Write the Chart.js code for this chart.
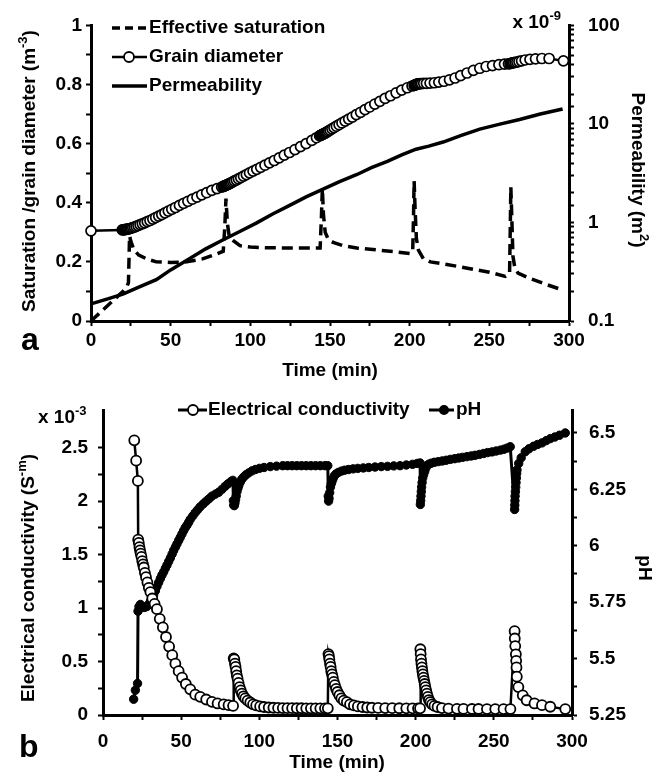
<!DOCTYPE html>
<html>
<head>
<meta charset="utf-8">
<script src="https://cdn.jsdelivr.net/npm/chart.js@4.4.1/dist/chart.umd.min.js"></script>
<style>
  body { margin: 0; background: #fff; }
  #wrap { position: relative; width: 662px; height: 774px; }
  canvas { position: absolute; left: 0; }
</style>
</head>
<body>
<div id="wrap">
  <canvas id="chartA" width="662" height="387" style="top:0"></canvas>
  <canvas id="chartB" width="662" height="387" style="top:387px"></canvas>
</div>
<script>
// ---- panel a ----
const grainTime = [
  0, 19.6, 20.2, 20.8, 21.4, 22.0, 22.6, 23.2, 23.8, 24.5,
  25.3, 26.2, 27.2, 28.3, 29.5, 30.8, 32.2, 33.7, 35.3, 37.0,
  38.8, 40.6, 42.5, 44.4, 46.4, 48.5, 50.7, 53.0, 55.5, 58.1,
  60.8, 63.6, 66.5, 69.5, 72.6, 75.8, 79.1, 82.0, 83.0, 83.4,
  83.8, 84.2, 84.6, 85.0, 85.5, 86.0, 86.6, 87.3, 88.1, 89.0,
  90.0, 91.2, 92.5, 94.0, 95.7, 97.5, 99.5, 101.7, 104.0, 106.5,
  109.2, 112.0, 115.0, 118.1, 121.3, 124.6, 128.0, 131.5, 135.0, 138.6,
  141.5, 143.5, 144.0, 144.4, 144.8, 145.2, 145.6, 146.0, 146.5, 147.0,
  147.6, 148.3, 149.1, 150.0, 151.2, 152.5, 154.0, 155.7, 157.5, 159.5,
  161.7, 164.0, 166.5, 169.2, 172.0, 175.0, 178.1, 181.3, 184.6, 188.0,
  191.5, 195.0, 198.5, 201.5, 202.8, 203.2, 203.6, 204.0, 204.5, 205.0,
  205.7, 206.5, 207.5, 208.8, 210.5, 212.8, 215.5, 218.3, 221.5, 225.0,
  228.5, 232.0, 236.0, 240.0, 244.0, 248.0, 252.0, 256.0, 259.5, 262.0,
  263.0, 263.5, 264.0, 264.6, 265.3, 266.2, 267.3, 268.6, 270.2, 272.5,
  275.5, 279.0, 283.0, 287.5, 296.5
];
const grainDia = [
  0.305, 0.308, 0.308, 0.309, 0.309, 0.310, 0.311, 0.311, 0.312, 0.313,
  0.314, 0.316, 0.318, 0.320, 0.323, 0.326, 0.329, 0.332, 0.336, 0.340,
  0.345, 0.350, 0.355, 0.360, 0.366, 0.372, 0.378, 0.384, 0.391, 0.398,
  0.405, 0.412, 0.419, 0.427, 0.434, 0.442, 0.448, 0.453, 0.455, 0.456,
  0.457, 0.458, 0.459, 0.460, 0.461, 0.462, 0.464, 0.466, 0.468, 0.471,
  0.474, 0.477, 0.481, 0.485, 0.490, 0.495, 0.501, 0.507, 0.513, 0.520,
  0.527, 0.535, 0.543, 0.552, 0.561, 0.570, 0.580, 0.590, 0.600, 0.611,
  0.620, 0.626, 0.628, 0.629, 0.630, 0.631, 0.632, 0.633, 0.635, 0.636,
  0.638, 0.640, 0.643, 0.646, 0.650, 0.654, 0.659, 0.664, 0.670, 0.676,
  0.683, 0.690, 0.698, 0.706, 0.715, 0.724, 0.734, 0.743, 0.753, 0.762,
  0.772, 0.781, 0.789, 0.795, 0.797, 0.798, 0.799, 0.800, 0.801, 0.802,
  0.802, 0.803, 0.803, 0.804, 0.804, 0.805, 0.806, 0.808, 0.811, 0.816,
  0.822, 0.830, 0.839, 0.848, 0.855, 0.861, 0.864, 0.867, 0.869, 0.870,
  0.871, 0.872, 0.872, 0.873, 0.874, 0.875, 0.876, 0.878, 0.880, 0.883,
  0.885, 0.887, 0.888, 0.888, 0.880
];
const satTime = [
  0, 5, 10, 15, 20, 22.5, 23.5, 23.9, 24.2, 25,
  27, 30, 35, 41, 50, 60, 70, 78, 83, 84.0,
  84.7, 85.6, 86.8, 89.3, 93.5, 100, 110, 120, 130, 143.8,
  144.6, 145.2, 145.9, 147, 149, 152, 158, 166.8, 180, 190,
  200, 201.9, 202.4, 202.8, 203.4, 204.2, 205.5, 208.6, 213, 219,
  230, 240, 250, 260, 262.7, 263.1, 263.5, 264.1, 264.8, 266,
  268, 275, 285, 296.5
];
const satValue = [
  0, 0.025, 0.05, 0.075, 0.10, 0.115, 0.13, 0.22, 0.288, 0.27,
  0.24, 0.223, 0.21, 0.2, 0.198, 0.2, 0.21, 0.225, 0.236, 0.32,
  0.414, 0.33, 0.285, 0.272, 0.255, 0.25, 0.248, 0.247, 0.247, 0.247,
  0.35, 0.447, 0.36, 0.3, 0.275, 0.266, 0.255, 0.247, 0.24, 0.235,
  0.228, 0.235, 0.35, 0.473, 0.38, 0.28, 0.24, 0.211, 0.2, 0.195,
  0.185, 0.175, 0.165, 0.151, 0.16, 0.3, 0.453, 0.35, 0.22, 0.18,
  0.162, 0.145, 0.125, 0.104
];
const permTime = [0, 10, 20, 30, 41, 50, 62, 72, 83, 94, 104, 114, 125, 135, 146,
  156, 167, 176, 186, 195, 204, 212, 221, 232, 244, 256, 269, 282, 296];
const permValue = [0.149, 0.167, 0.187, 0.221, 0.263, 0.33, 0.43, 0.54, 0.668, 0.82, 0.99, 1.22, 1.5, 1.82, 2.19,
  2.6, 3.07, 3.6, 4.16, 4.85, 5.54, 5.95, 6.55, 7.6, 8.87, 9.9, 11.1, 12.6, 14.2];

// ---- panel b ----
const ecTime = [
  20.0, 21.2, 22.3, 22.5, 22.9, 23.3, 23.7, 24.1, 24.6, 25.1,
  25.6, 26.1, 26.8, 27.5, 28.4, 29.3, 30.3, 31.5, 33.0, 34.5,
  36.3, 38.3, 40.3, 42.3, 44.3, 46.3, 48.4, 50.6, 53.0, 55.8,
  59.0, 62.2, 66.0, 69.7, 73.3, 77.2, 80.3, 83.2,
  83.6, 84.0, 84.4, 84.8, 85.2, 85.6, 86.1, 86.7, 87.4, 88.1,
  88.9, 89.9, 91.0, 92.5, 94.2, 96.0, 98.0, 100.5, 103, 106,
  109, 112, 115, 118, 121, 124, 127, 130, 133, 136,
  139, 142, 143.8,
  144.2, 144.5, 144.8, 145.2, 145.6, 146.0, 146.5, 147.0, 147.6, 148.3,
  149.1, 150.0, 151.2, 152.5, 154, 156, 158, 160.5, 163, 166,
  169, 172, 176, 180.5, 185, 189.5, 194, 198, 201.5, 202.8,
  203.0, 203.2, 203.4, 203.7, 204.0, 204.3, 204.6, 205.0, 205.4, 205.8,
  206.2, 206.7, 207.2, 207.8, 208.5, 209.4, 210.5, 212, 214, 216.8,
  221, 226.4, 230.6, 236, 240.2, 245.6, 250.9, 256.2, 260.6,
  263.3, 263.4, 263.7, 264.1, 264.3, 264.5, 264.7, 265.7, 268.5, 271,
  276, 280.8, 286.1, 295.7
];
const ecValue = [
  2.57, 2.38, 2.19, 1.64, 1.61, 1.57, 1.54, 1.51, 1.48, 1.44,
  1.41, 1.38, 1.33, 1.29, 1.24, 1.19, 1.15, 1.09, 1.04, 0.99,
  0.90, 0.82, 0.73, 0.64, 0.56, 0.48, 0.41, 0.35, 0.29, 0.24,
  0.19, 0.17, 0.145, 0.123, 0.108, 0.099, 0.092, 0.085,
  0.53, 0.52, 0.48, 0.45, 0.41, 0.37, 0.34, 0.30, 0.26, 0.23,
  0.20, 0.175, 0.155, 0.135, 0.117, 0.10, 0.09, 0.08, 0.075, 0.07,
  0.068, 0.066, 0.065, 0.064, 0.064, 0.063, 0.063, 0.062, 0.062, 0.062,
  0.062, 0.062, 0.062,
  0.57, 0.55, 0.52, 0.48, 0.45, 0.41, 0.38, 0.35, 0.31, 0.28,
  0.245, 0.215, 0.185, 0.155, 0.135, 0.12, 0.10, 0.09, 0.08, 0.075,
  0.07, 0.068, 0.066, 0.065, 0.064, 0.063, 0.062, 0.062, 0.062, 0.062,
  0.615, 0.57, 0.52, 0.48, 0.445, 0.41, 0.38, 0.35, 0.32, 0.29,
  0.26, 0.23, 0.20, 0.17, 0.14, 0.12, 0.10, 0.085, 0.075, 0.065,
  0.06, 0.058, 0.057, 0.056, 0.056, 0.055, 0.055, 0.055, 0.055,
  0.784, 0.716, 0.645, 0.568, 0.507, 0.445, 0.359, 0.261, 0.184, 0.138,
  0.108, 0.092, 0.077, 0.055
];
const phTime = [
  19.6, 20.7, 22.1, 22.4, 23.0, 23.9, 25.0, 26.0, 27.0, 28.1,
  29.2, 30.3, 31.4, 32.4, 33.5, 34.5, 35.6, 36.7, 37.7, 38.8,
  39.9, 40.9, 42.0, 43.1, 44.2, 45.2, 46.3, 47.3, 48.4, 49.4,
  50.5, 51.6, 52.6, 53.7, 54.8, 55.8, 57.4, 59.0, 60.6, 62.2,
  64.2, 66.1, 67.9, 69.7, 71.9, 74.0, 76.1, 78.2, 80.0, 81.9,
  83.1,
  83.4, 83.6, 84.0, 84.4, 84.8, 85.2, 85.7, 86.3, 86.9, 87.8,
  88.8, 90.0, 91.5, 93.2, 95.3, 97.5, 100, 103, 107, 111,
  115, 118, 121, 124, 127, 130, 133, 136, 139, 142,
  143.8,
  144.1, 144.3, 144.6, 145.0, 145.5, 146.0, 146.5, 147.2, 148.0, 149.0,
  150.5, 152.5, 154.5, 157, 160, 163, 166.5, 170, 174, 178,
  182, 186, 190, 194, 198, 201, 202.8,
  203.0, 203.2, 203.4, 203.6, 203.8, 204.1, 204.5, 205.1, 205.8, 206.5,
  207.3, 208.5, 210, 212, 214.5, 217, 219.5, 222.2, 225, 227.5,
  230, 232.8, 235.5, 238, 240.8, 243.5, 246, 248.8, 251.5, 254.2,
  256.5, 258.5, 260.5,
  263.3, 263.4, 263.5, 263.6, 263.8, 264.0, 264.2, 264.4, 264.6, 264.8,
  265.9, 267.5, 270.1, 272.5, 275.4, 278, 280.8, 283.5, 286.1, 289,
  292, 295.7
];
const phValue = [
  5.32, 5.36, 5.39, 5.71, 5.73, 5.74, 5.73, 5.727, 5.728, 5.731,
  5.74, 5.753, 5.77, 5.782, 5.80, 5.819, 5.837, 5.855, 5.87, 5.884,
  5.90, 5.914, 5.93, 5.946, 5.963, 5.979, 5.994, 6.008, 6.023, 6.037,
  6.052, 6.067, 6.08, 6.091, 6.104, 6.117, 6.132, 6.147, 6.16, 6.173,
  6.186, 6.198, 6.209, 6.22, 6.229, 6.237, 6.25, 6.264, 6.275, 6.285,
  6.29,
  6.20, 6.18, 6.178, 6.19, 6.205, 6.22, 6.24, 6.255, 6.268, 6.282,
  6.295, 6.305, 6.315, 6.323, 6.332, 6.338, 6.343, 6.347, 6.351, 6.353,
  6.355, 6.355, 6.355, 6.355, 6.355, 6.355, 6.355, 6.355, 6.355, 6.355,
  6.355,
  6.22, 6.198, 6.21, 6.235, 6.26, 6.275, 6.285, 6.298, 6.31, 6.318,
  6.325, 6.331, 6.335, 6.338, 6.341, 6.343, 6.345, 6.347, 6.349, 6.351,
  6.352, 6.354, 6.355, 6.358, 6.361, 6.365, 6.367,
  6.183, 6.2, 6.22, 6.24, 6.26, 6.28, 6.3, 6.315, 6.33, 6.345,
  6.356, 6.362, 6.366, 6.37, 6.373, 6.376, 6.379, 6.383, 6.386, 6.389,
  6.392, 6.395, 6.398, 6.401, 6.405, 6.409, 6.413, 6.416, 6.42, 6.424,
  6.428, 6.433, 6.439,
  6.161, 6.18, 6.2, 6.22, 6.24, 6.26, 6.28, 6.3, 6.32, 6.336,
  6.365, 6.39, 6.417, 6.43, 6.441, 6.449, 6.456, 6.466, 6.475, 6.482,
  6.49, 6.5
];

const pts = (xs, ys) => xs.map((x, i) => ({ x: x, y: ys[i] }));

const FAMILY = '"Liberation Sans", Arial, sans-serif';
const MAIN = 'bold 19px ' + FAMILY;
const SUP = 'bold 13px ' + FAMILY;
const tickFont = { family: FAMILY, size: 19, weight: 'bold' };

function richText(ctx, parts, x, y, angle, align) {
  ctx.save();
  ctx.translate(x, y);
  ctx.rotate(angle);
  ctx.fillStyle = '#000';
  ctx.textBaseline = 'alphabetic';
  ctx.textAlign = 'left';
  let total = 0;
  const widths = parts.map(p => {
    ctx.font = p[1] ? SUP : MAIN;
    const w = ctx.measureText(p[0]).width;
    total += w;
    return w;
  });
  let cx = align === 'center' ? -total / 2 : (align === 'right' ? -total : 0);
  parts.forEach((p, i) => {
    ctx.font = p[1] ? SUP : MAIN;
    ctx.fillText(p[0], cx, p[1] ? -8 : 0);
    cx += widths[i];
  });
  ctx.restore();
}

function legendLine(ctx, x1, x2, y, width, dash) {
  ctx.save();
  ctx.strokeStyle = '#000';
  ctx.lineWidth = width;
  ctx.setLineDash(dash || []);
  ctx.beginPath();
  ctx.moveTo(x1, y);
  ctx.lineTo(x2, y);
  ctx.stroke();
  ctx.restore();
}

function legendDot(ctx, x, y, r, fill) {
  ctx.save();
  ctx.beginPath();
  ctx.arc(x, y, r, 0, Math.PI * 2);
  ctx.fillStyle = fill;
  ctx.fill();
  ctx.lineWidth = 1.8;
  ctx.strokeStyle = '#000';
  ctx.stroke();
  ctx.restore();
}

function legendText(ctx, txt, x, y) {
  ctx.save();
  ctx.font = MAIN;
  ctx.fillStyle = '#000';
  ctx.textBaseline = 'middle';
  ctx.textAlign = 'left';
  ctx.fillText(txt, x, y);
  ctx.restore();
}

function bigLetter(ctx, txt, x, y) {
  ctx.save();
  ctx.font = 'bold 32px ' + FAMILY;
  ctx.fillStyle = '#000';
  ctx.fillText(txt, x, y);
  ctx.restore();
}

const annotA = {
  id: 'annotA',
  afterDraw(chart) {
    const ctx = chart.ctx;
    richText(ctx, [['Saturation /grain diameter (m'], ['-3', true], [')']], 35, 171, -Math.PI / 2, 'center');
    richText(ctx, [['Permeability (m'], ['2', true], [')']], 632, 170, Math.PI / 2, 'center');
    richText(ctx, [['Time (min)']], 330, 376, 0, 'center');
    richText(ctx, [['x 10'], ['-9', true]], 561, 28, 0, 'right');
    bigLetter(ctx, 'a', 21, 350);
    legendLine(ctx, 112, 147, 28, 3.5, [8, 5]);
    legendText(ctx, 'Effective saturation', 149, 28);
    legendLine(ctx, 112, 147, 57, 2.5);
    legendDot(ctx, 129, 57, 5, '#fff');
    legendText(ctx, 'Grain diameter', 149, 57);
    legendLine(ctx, 112, 147, 86, 3.5);
    legendText(ctx, 'Permeability', 149, 86);
  }
};

const annotB = {
  id: 'annotB',
  afterDraw(chart) {
    const ctx = chart.ctx;
    richText(ctx, [['Electrical conductivity (S'], ['-m', true], [')']], 34, 191, -Math.PI / 2, 'center');
    richText(ctx, [['pH']], 639, 181, Math.PI / 2, 'center');
    richText(ctx, [['Time (min)']], 337, 381, 0, 'center');
    richText(ctx, [['x 10'], ['-3', true]], 38, 36, 0, 'left');
    bigLetter(ctx, 'b', 19, 370);
    legendLine(ctx, 178, 207, 23, 3);
    legendDot(ctx, 193, 23, 5, '#fff');
    legendText(ctx, 'Electrical conductivity', 208, 23);
    legendLine(ctx, 429, 454, 23, 3);
    legendDot(ctx, 444, 23, 4.2, '#000');
    legendText(ctx, 'pH', 456, 23);
  }
};

const axisBorder = { display: true, color: '#000', width: 3 };
const axisGrid = { drawOnChartArea: false, color: '#000', tickColor: '#000', tickLength: 5, tickWidth: 2 };
const onStep = (v, s) => Math.abs(v / s - Math.round(v / s)) < 1e-6;

new Chart(document.getElementById('chartA'), {
  type: 'line',
  data: {
    datasets: [
      { label: 'Grain diameter', data: pts(grainTime, grainDia), yAxisID: 'y',
        borderColor: '#000', borderWidth: 2.5, pointRadius: 5, pointBackgroundColor: '#fff',
        pointBorderColor: '#000', pointBorderWidth: 1.7, clip: false },
      { label: 'Effective saturation', data: pts(satTime, satValue), yAxisID: 'y',
        borderColor: '#000', borderWidth: 3.5, borderDash: [11, 6], pointRadius: 0, clip: false },
      { label: 'Permeability', data: pts(permTime, permValue), yAxisID: 'y2',
        borderColor: '#000', borderWidth: 3.5, pointRadius: 0, clip: false }
    ]
  },
  options: {
    responsive: false, animation: false, devicePixelRatio: 1,
    layout: { padding: { top: 17, left: 0, right: 0, bottom: 0 } },
    plugins: { legend: { display: false }, tooltip: { enabled: false } },
    scales: {
      x: {
        type: 'linear', min: 0, max: 300,
        afterFit: s => { s.height = 66; },
        border: axisBorder, grid: axisGrid,
        ticks: { stepSize: 25, autoSkip: false, maxRotation: 0, padding: 3, color: '#000', font: tickFont,
          callback: v => onStep(v, 50) ? String(v) : '' }
      },
      y: {
        position: 'left', min: 0, max: 1,
        afterFit: s => { s.width = 91; },
        border: axisBorder, grid: axisGrid,
        ticks: { stepSize: 0.1, autoSkip: false, padding: 4, color: '#000', font: tickFont,
          callback: v => onStep(v, 0.2) ? String(Math.round(v * 10) / 10) : '' }
      },
      y2: {
        type: 'logarithmic', position: 'right', min: 0.1, max: 100,
        afterFit: s => { s.width = 93; },
        border: axisBorder, grid: axisGrid,
        ticks: { autoSkip: false, padding: 14, color: '#000', font: tickFont,
          callback: v => {
            const l = Math.log10(v);
            if (Math.abs(l - Math.round(l)) > 1e-6) return '';
            return v < 1 ? '0.1' : String(Math.round(v));
          } }
      }
    }
  },
  plugins: [annotA]
});

new Chart(document.getElementById('chartB'), {
  type: 'line',
  data: {
    datasets: [
      { label: 'Electrical conductivity', data: pts(ecTime, ecValue), yAxisID: 'y',
        borderColor: '#000', borderWidth: 2.5, pointRadius: 5, pointBackgroundColor: '#fff',
        pointBorderColor: '#000', pointBorderWidth: 1.8, clip: false },
      { label: 'pH', data: pts(phTime, phValue), yAxisID: 'y2',
        borderColor: '#000', borderWidth: 3, pointRadius: 4.2, pointBackgroundColor: '#000',
        pointBorderColor: '#000', pointBorderWidth: 1, clip: false }
    ]
  },
  options: {
    responsive: false, animation: false, devicePixelRatio: 1,
    layout: { padding: { top: 20, left: 0, right: 0, bottom: 0 } },
    plugins: { legend: { display: false }, tooltip: { enabled: false } },
    scales: {
      x: {
        type: 'linear', min: 0, max: 300,
        afterFit: s => { s.height = 59; },
        border: axisBorder, grid: axisGrid,
        ticks: { stepSize: 25, autoSkip: false, maxRotation: 0, padding: 10, color: '#000', font: tickFont,
          callback: v => onStep(v, 50) ? String(v) : '' }
      },
      y: {
        position: 'left', min: 0, max: 2.85,
        afterFit: s => { s.width = 103; },
        afterBuildTicks: s => { s.ticks = s.ticks.filter(t => onStep(t.value, 0.25)); },
        border: axisBorder, grid: axisGrid,
        ticks: { stepSize: 0.25, autoSkip: false, padding: 10, color: '#000', font: tickFont,
          callback: v => onStep(v, 0.5) ? String(Math.round(v * 2) / 2) : '' }
      },
      y2: {
        position: 'right', min: 5.25, max: 6.6,
        afterFit: s => { s.width = 90; },
        afterBuildTicks: s => { s.ticks = s.ticks.filter(t => onStep(t.value, 0.125)); },
        border: axisBorder, grid: axisGrid,
        ticks: { stepSize: 0.125, autoSkip: false, padding: 12, color: '#000', font: tickFont,
          callback: v => onStep(v, 0.25) ? String(Math.round(v * 4) / 4) : '' }
      }
    }
  },
  plugins: [annotB]
});
</script>
</body>
</html>
